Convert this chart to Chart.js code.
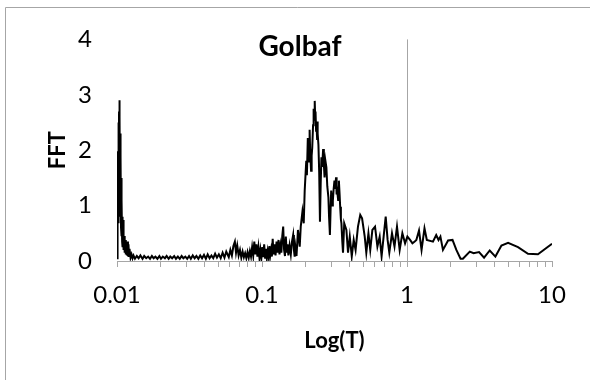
<!DOCTYPE html>
<html>
<head>
<meta charset="utf-8">
<script src="https://cdn.jsdelivr.net/npm/chart.js@4/dist/chart.umd.min.js"></script>
<style>
    html, body { margin: 0; padding: 0; background: #fff; }
    #contenedor { width: 590px; height: 380px; }
</style>
</head>
<body>
<div id="contenedor"><canvas id="graficaFFT" width="590" height="380"></canvas></div>
<script>
/* Datos */
const tituloGrafica = 'Golbaf';
const etiquetaX = 'Log(T)';
const etiquetaY = 'FFT';
const ticksX = [0.01, 0.1, 1, 10];
const ticksY = [0, 1, 2, 3, 4];

// 1. pico inicial (T ~ 0.01)
const tPicoInicial = [
    0.01, 0.01003, 0.01006, 0.01009, 0.01012, 0.01015, 0.01018, 0.01021, 0.01024, 0.01027,
    0.0103, 0.01033, 0.01036, 0.0104, 0.01043, 0.01046, 0.0105, 0.01054, 0.01058, 0.01062,
    0.01066, 0.0107, 0.01075, 0.0108, 0.01085, 0.0109, 0.01095, 0.011, 0.0111, 0.0112,
    0.0113, 0.0114, 0.0115, 0.0116, 0.0117, 0.0118, 0.0119, 0.012, 0.0121, 0.0122,
    0.0124, 0.0126, 0.0128, 0.013
];
const fftPicoInicial = [
    0.05, 0.86, 0.2, 1.5, 0.4, 1.98, 0.7, 2.2, 0.9, 2.5,
    1.1, 2.7, 1.2, 2.9, 1.4, 2.6, 1.0, 2.3, 0.8, 1.9,
    0.6, 1.5, 0.45, 1.1, 0.35, 0.8, 0.25, 0.74, 0.2, 0.45,
    0.15, 0.38, 0.12, 0.3, 0.1, 0.35, 0.08, 0.3, 0.09, 0.22,
    0.06, 0.12, 0.05, 0.1
];

// 2. meseta baja
const tMeseta = [
    0.0133, 0.0137, 0.0141, 0.0145, 0.015, 0.0154, 0.0159, 0.0164, 0.0169, 0.0174,
    0.0179, 0.0184, 0.019, 0.0196, 0.0201, 0.0207, 0.0214, 0.022, 0.0227, 0.0233,
    0.024, 0.0248, 0.0255, 0.0263, 0.0271, 0.0279, 0.0287, 0.0296, 0.0305, 0.0314,
    0.0323, 0.0333, 0.0343, 0.0353, 0.0364, 0.0375, 0.0386, 0.0398, 0.041, 0.0422,
    0.0435, 0.0448, 0.0461, 0.0475, 0.0489, 0.0504, 0.0519, 0.0535, 0.0551, 0.0567
];
const fftMeseta = [
    0.04, 0.09, 0.05, 0.1, 0.04, 0.09, 0.05, 0.08, 0.04, 0.09,
    0.05, 0.08, 0.04, 0.09, 0.04, 0.08, 0.05, 0.09, 0.04, 0.08,
    0.05, 0.09, 0.04, 0.08, 0.04, 0.09, 0.05, 0.08, 0.04, 0.09,
    0.04, 0.1, 0.05, 0.09, 0.04, 0.1, 0.05, 0.11, 0.04, 0.12,
    0.05, 0.1, 0.05, 0.13, 0.06, 0.12, 0.05, 0.15, 0.06, 0.17
];

// 3. subida ruidosa (0.06 - 0.17)
const tSubida = [
    0.059, 0.0605, 0.062, 0.0635, 0.065, 0.0662, 0.0675, 0.069, 0.0705, 0.072,
    0.0735, 0.075, 0.0765, 0.078, 0.0795, 0.081, 0.0825, 0.084, 0.0855, 0.087,
    0.0885, 0.09, 0.0915, 0.093, 0.0945, 0.096, 0.0975, 0.099, 0.1005, 0.102,
    0.1035, 0.105, 0.1065, 0.108, 0.1095, 0.111, 0.1125, 0.114, 0.1155, 0.117,
    0.1185, 0.12, 0.122, 0.124, 0.126, 0.128, 0.13, 0.132, 0.134, 0.136,
    0.138, 0.14, 0.142, 0.144, 0.146, 0.148, 0.15, 0.152, 0.155, 0.158,
    0.161, 0.164, 0.166, 0.168, 0.17, 0.173
];
const fftSubida = [
    0.07, 0.2, 0.1, 0.27, 0.35, 0.15, 0.28, 0.1, 0.2, 0.06,
    0.17, 0.07, 0.14, 0.05, 0.16, 0.06, 0.18, 0.08, 0.25, 0.1,
    0.35, 0.12, 0.3, 0.08, 0.25, 0.06, 0.2, 0.05, 0.25, 0.07,
    0.3, 0.06, 0.22, 0.05, 0.18, 0.08, 0.27, 0.1, 0.2, 0.08,
    0.4, 0.12, 0.3, 0.1, 0.35, 0.15, 0.38, 0.12, 0.28, 0.15,
    0.45, 0.62, 0.2, 0.09, 0.44, 0.15, 0.3, 0.1, 0.28, 0.12,
    0.35, 0.47, 0.2, 0.08, 0.25, 0.09
];

// 4. pico principal (0.18 - 0.36)
const tPicoPrincipal = [
    0.177, 0.182, 0.185, 0.19, 0.194, 0.197, 0.2, 0.202, 0.204, 0.207,
    0.209, 0.21, 0.212, 0.213, 0.215, 0.218, 0.22, 0.222, 0.225, 0.227,
    0.229, 0.231, 0.233, 0.234, 0.236, 0.238, 0.24, 0.241, 0.243, 0.245,
    0.248, 0.251, 0.254, 0.257, 0.26, 0.264, 0.267, 0.27, 0.274, 0.278,
    0.282, 0.287, 0.29, 0.294, 0.297, 0.3, 0.304, 0.308, 0.312, 0.316,
    0.32, 0.324, 0.327, 0.33, 0.335, 0.339, 0.343, 0.346, 0.35, 0.353,
    0.358
];
const fftPicoPrincipal = [
    0.56, 0.26, 0.62, 0.89, 0.68, 1.27, 1.6, 1.81, 1.55, 2.22,
    1.9, 1.78, 2.1, 2.37, 1.95, 1.63, 1.9, 2.04, 2.45, 2.75,
    2.6, 2.89, 2.55, 2.7, 2.35, 2.4, 2.2, 2.52, 2.3, 2.1,
    1.6, 0.71, 1.4, 1.87, 1.7, 2.02, 1.75, 1.51, 1.8, 1.69,
    1.35, 1.15, 0.8, 0.47, 0.9, 1.27, 1.0, 1.09, 1.3, 1.45,
    1.3, 1.51, 1.2, 1.27, 1.1, 1.45, 1.2, 0.98, 0.75, 0.68,
    0.35
];

// 5. cola (0.36 - 10)
const tCola = [
    0.362, 0.369, 0.382, 0.392, 0.403, 0.416, 0.429, 0.442, 0.459, 0.476,
    0.49, 0.511, 0.524, 0.542, 0.558, 0.577, 0.602, 0.625, 0.648, 0.668,
    0.69, 0.713, 0.735, 0.755, 0.788, 0.82, 0.853, 0.89, 0.929, 0.97,
    1.006, 1.05, 1.09, 1.13, 1.16, 1.21, 1.26, 1.32, 1.37, 1.51,
    1.59, 1.65, 1.7, 1.77, 1.92, 2.06, 2.19, 2.34, 2.43, 2.71,
    2.88, 3.14, 3.4, 3.72, 4.07, 4.48, 4.98, 5.83, 6.83, 8.0,
    10
];
const fftCola = [
    0.15, 0.68, 0.56, 0.15, 0.44, 0.085, 0.38, 0.2, 0.62, 0.83,
    0.77, 0.44, 0.15, 0.5, 0.2, 0.56, 0.62, 0.26, 0.44, 0.085,
    0.44, 0.8, 0.38, 0.15, 0.5, 0.26, 0.62, 0.2, 0.5, 0.32,
    0.44, 0.38, 0.32, 0.35, 0.38, 0.55, 0.2, 0.59, 0.38, 0.35,
    0.47, 0.38, 0.44, 0.2, 0.37, 0.38, 0.2, 0.04, 0.04, 0.17,
    0.14, 0.16, 0.06, 0.19, 0.08, 0.28, 0.33, 0.25, 0.13, 0.12,
    0.31
];

const periodoT = [...tPicoInicial, ...tMeseta, ...tSubida, ...tPicoPrincipal, ...tCola];
const amplitudFFT = [...fftPicoInicial, ...fftMeseta, ...fftSubida, ...fftPicoPrincipal, ...fftCola];

const decadas = [0.01, 0.1, 1];
const multiplos = [1, 2, 3, 4, 5, 6, 7, 8, 9];

const fuente = 'Lato, "Open Sans", sans-serif';

// Marco gris (solo se ve arriba y a la izquierda) + titulo dentro del area
const pluginMarco = {
    id: 'marco',
    beforeDraw(chart) {
        const ctx = chart.ctx;
        ctx.save();
        ctx.strokeStyle = '#a6a6a6';
        ctx.lineWidth = 1;
        ctx.beginPath();
        ctx.moveTo(5.5, chart.height);
        ctx.lineTo(5.5, 7.5);
        ctx.lineTo(chart.width, 7.5);
        ctx.stroke();
        ctx.restore();
    },
    afterDraw(chart) {
        const ctx = chart.ctx;
        ctx.save();
        ctx.fillStyle = '#000';
        ctx.font = 'bold 28px ' + fuente;
        ctx.textAlign = 'center';
        ctx.textBaseline = 'middle';
        ctx.fillText(tituloGrafica, 300, 47);
        ctx.restore();
    }
};

const puntos = periodoT.map((t, i) => ({ x: t, y: amplitudFFT[i] }));

new Chart(document.getElementById('graficaFFT'), {
    type: 'line',
    data: {
        datasets: [{
            data: puntos,
            borderColor: '#000',
            borderWidth: 2,
            pointRadius: 0,
            tension: 0,
            fill: false
        }]
    },
    options: {
        responsive: false,
        animation: false,
        devicePixelRatio: 1,
        layout: { padding: { top: 37, right: 38, left: 38, bottom: 0 } },
        plugins: {
            legend: { display: false },
            tooltip: { enabled: false }
        },
        scales: {
            x: {
                type: 'logarithmic',
                min: 0.01,
                max: 10,
                afterBuildTicks: (scale) => {
                    const lista = [];
                    decadas.forEach(d => multiplos.forEach(m => lista.push({ value: +(d * m).toPrecision(3) })));
                    lista.push({ value: 10 });
                    scale.ticks = lista;
                },
                afterFit: (scale) => { scale.height = 119; },
                grid: {
                    color: (c) => (c.tick && c.tick.value === 1) ? '#a6a6a6' : 'rgba(0,0,0,0)',
                    tickColor: '#a6a6a6',
                    tickLength: 6,
                    lineWidth: 1
                },
                border: { display: true, color: '#a6a6a6', width: 1 },
                ticks: {
                    autoSkip: false,
                    maxRotation: 0,
                    padding: 14,
                    color: '#000',
                    font: { family: fuente, size: 24 },
                    callback: (v) => ticksX.includes(v) ? String(v) : ''
                },
                title: {
                    display: true,
                    text: etiquetaX,
                    color: '#000',
                    font: { family: fuente, size: 22, weight: 'bold' },
                    padding: { top: 0, bottom: 26 }
                }
            },
            y: {
                min: 0,
                max: 4,
                afterBuildTicks: (scale) => { scale.ticks = ticksY.map(v => ({ value: v })); },
                afterFit: (scale) => { scale.width = 117 - 38; },
                grid: { display: false, drawTicks: false },
                border: { display: false },
                ticks: {
                    padding: 25,
                    color: '#000',
                    font: { family: fuente, size: 24 }
                },
                title: {
                    display: true,
                    text: etiquetaY,
                    color: '#000',
                    font: { family: fuente, size: 22, weight: 'bold' },
                    padding: { top: 7, bottom: 0 }
                }
            }
        }
    },
    plugins: [pluginMarco]
});
</script>
</body>
</html>
